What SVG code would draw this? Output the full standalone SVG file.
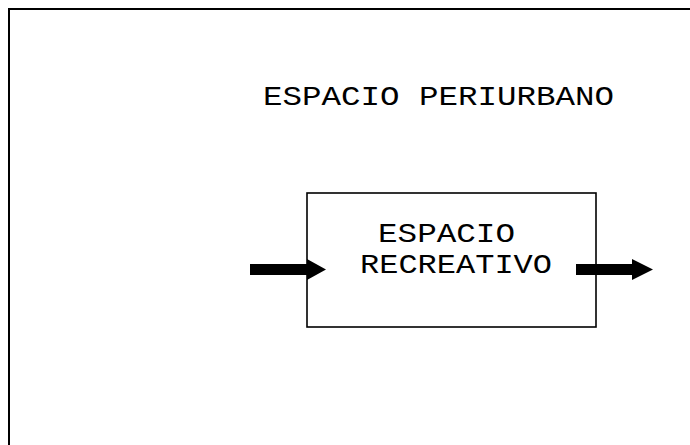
<svg xmlns="http://www.w3.org/2000/svg" width="690" height="445" viewBox="0 0 690 445">
<style>
.t{font-family:"Liberation Mono","Courier New",monospace;font-size:27px;fill:#000}
.box{fill:none;stroke:#000}
.arr{fill:#000}
</style>
<rect width="690" height="445" fill="#fff"/>
<g id="periurbano">
<rect class="box" x="9" y="9" width="700" height="460" stroke-width="2"/>
<text class="t" x="263" y="104.5" textLength="351" lengthAdjust="spacingAndGlyphs">ESPACIO PERIURBANO</text>
</g>
<g id="recreativo">
<rect class="box" x="307" y="193" width="289" height="134" stroke-width="1.6"/>
<text class="t" x="378" y="241.5" textLength="137" lengthAdjust="spacingAndGlyphs">ESPACIO</text>
<text class="t" x="360" y="273" textLength="192" lengthAdjust="spacingAndGlyphs">RECREATIVO</text>
</g>
<g id="connectors">
<polygon class="arr" points="250,264 307,264 307,259 326,269.5 307,280 307,275 250,275"/>
<polygon class="arr" points="576,264 632,264 632,259 653,269.5 632,280 632,275 576,275"/>
</g>
</svg>
